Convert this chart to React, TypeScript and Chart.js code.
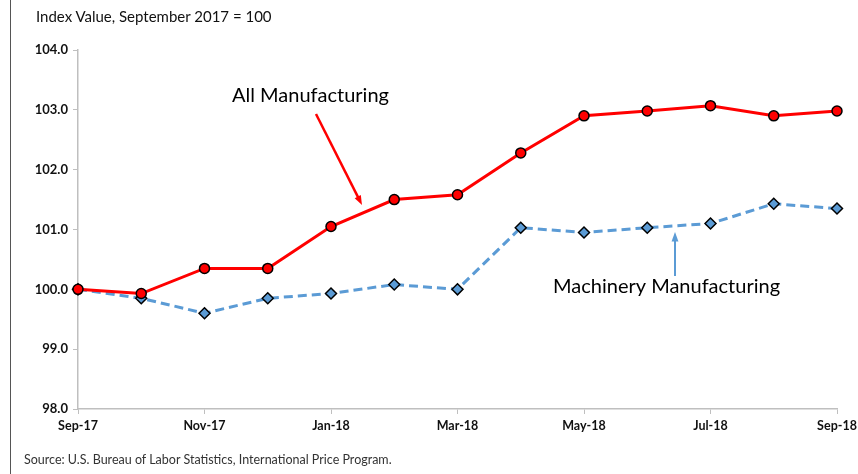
import React, { useEffect, useRef } from 'react';
import { Chart, registerables } from 'chart.js';

Chart.register(...registerables);

const months = ['Sep-17', 'Oct-17', 'Nov-17', 'Dec-17', 'Jan-18', 'Feb-18', 'Mar-18', 'Apr-18', 'May-18', 'Jun-18', 'Jul-18', 'Aug-18', 'Sep-18'];
const allManufacturing = [100.0, 99.93, 100.35, 100.35, 101.05, 101.5, 101.58, 102.28, 102.9, 102.98, 103.07, 102.9, 102.98];
const machineryManufacturing = [100.0, 99.85, 99.6, 99.85, 99.93, 100.08, 100.0, 101.03, 100.95, 101.03, 101.1, 101.43, 101.35];
const yTicks = [98, 99, 100, 101, 102, 103, 104];

const FONT = 'Lato, "Open Sans", sans-serif';

// draws the two callout labels with their arrows
const calloutPlugin = {
    id: 'callouts',
    afterDatasetsDraw(chart: Chart) {
        const ctx = chart.ctx;
        const arrow = (x1: number, y1: number, x2: number, y2: number, color: string, w: number) => {
            const ang = Math.atan2(y2 - y1, x2 - x1);
            const head = 10;
            ctx.save();
            ctx.strokeStyle = color;
            ctx.fillStyle = color;
            ctx.lineWidth = w;
            ctx.beginPath();
            ctx.moveTo(x1, y1);
            ctx.lineTo(x2 - Math.cos(ang) * head * 0.8, y2 - Math.sin(ang) * head * 0.8);
            ctx.stroke();
            ctx.beginPath();
            ctx.moveTo(x2, y2);
            ctx.lineTo(x2 - head * Math.cos(ang - 0.35), y2 - head * Math.sin(ang - 0.35));
            ctx.lineTo(x2 - head * Math.cos(ang + 0.35), y2 - head * Math.sin(ang + 0.35));
            ctx.closePath();
            ctx.fill();
            ctx.restore();
        };

        ctx.save();
        ctx.fillStyle = '#000';
        ctx.font = `20px ${FONT}`;
        ctx.textBaseline = 'middle';
        ctx.textAlign = 'left';
        ctx.fillText('All Manufacturing', 232, 96);
        ctx.fillText('Machinery Manufacturing', 553, 287);
        ctx.restore();

        arrow(316, 114, 362, 205, '#ff0000', 2.5);
        arrow(675, 276, 675, 232, '#5b9bd5', 2);
    },
};

const App: React.FC = () => {
    const chartRef = useRef<HTMLCanvasElement>(null);
    const chartInstance = useRef<Chart | null>(null);

    useEffect(() => {
        document.body.style.margin = '0';
        document.documentElement.style.overflow = 'hidden';
        if (!chartRef.current) return;
        if (chartInstance.current) {
            chartInstance.current.destroy();
        }

        chartInstance.current = new Chart(chartRef.current, {
            type: 'line',
            data: {
                labels: months,
                datasets: [
                    {
                        label: 'All Manufacturing',
                        data: allManufacturing,
                        borderColor: '#ff0000',
                        borderWidth: 3,
                        backgroundColor: '#ff0000',
                        pointBackgroundColor: '#ff0000',
                        pointBorderColor: '#000',
                        pointBorderWidth: 1.5,
                        pointRadius: 5,
                        pointStyle: 'circle',
                        tension: 0,
                    },
                    {
                        label: 'Machinery Manufacturing',
                        data: machineryManufacturing,
                        borderColor: '#5b9bd5',
                        borderWidth: 3,
                        borderDash: [9, 5],
                        backgroundColor: '#5b9bd5',
                        pointBackgroundColor: '#5b9bd5',
                        pointBorderColor: '#000',
                        pointBorderWidth: 1.5,
                        pointRadius: 5.5,
                        pointStyle: 'rectRot',
                        tension: 0,
                    },
                ],
            },
            options: {
                animation: false,
                responsive: false,
                layout: { padding: { top: 50, left: 0, right: 21, bottom: 37 } },
                plugins: {
                    legend: { display: false },
                    tooltip: { enabled: false },
                },
                scales: {
                    x: {
                        offset: false,
                        afterFit: (scale) => { scale.paddingRight = 0; scale.paddingLeft = 0; },
                        grid: { drawOnChartArea: false, drawTicks: true, tickLength: 5, color: '#bfbfbf' },
                        border: { color: '#bfbfbf', width: 1.5 },
                        ticks: {
                            autoSkip: false,
                            maxRotation: 0,
                            color: '#111',
                            font: { family: FONT, size: 12.5, weight: 'bold' },
                            padding: 4,
                            callback: (_v, i) => (i % 2 === 0 ? months[i] : null),
                        },
                    },
                    y: {
                        min: yTicks[0],
                        max: yTicks[yTicks.length - 1],
                        afterFit: (scale) => { scale.width = 78; },
                        afterBuildTicks: (scale) => { scale.ticks = yTicks.map(v => ({ value: v })); },
                        grid: { drawOnChartArea: false, drawTicks: true, tickLength: 5, color: '#bfbfbf' },
                        border: { color: '#bfbfbf', width: 1.5 },
                        ticks: {
                            color: '#111',
                            font: { family: FONT, size: 13, weight: 'bold' },
                            padding: 5,
                            callback: (v) => Number(v).toFixed(1),
                        },
                    },
                },
            },
            plugins: [calloutPlugin],
        });

        return () => {
            if (chartInstance.current) {
                chartInstance.current.destroy();
                chartInstance.current = null;
            }
        };
    }, []);

    return (
        <div style={{ position: 'relative', width: 858, height: 474, background: '#fff', fontFamily: FONT, overflow: 'hidden' }}>
            <div style={{ position: 'absolute', left: 10, top: 0, bottom: 0, borderLeft: '1px solid #555' }}></div>
            <div style={{ position: 'absolute', left: 36, top: 7, fontSize: 15, color: '#111' }}>Index Value, September 2017 = 100</div>
            <canvas ref={chartRef} width={858} height={474} style={{ display: 'block' }}></canvas>
            <div style={{ position: 'absolute', left: 24, top: 452, fontSize: 12.5, color: '#333' }}>Source: U.S. Bureau of Labor Statistics, International Price Program.</div>
        </div>
    );
};

export default App;
